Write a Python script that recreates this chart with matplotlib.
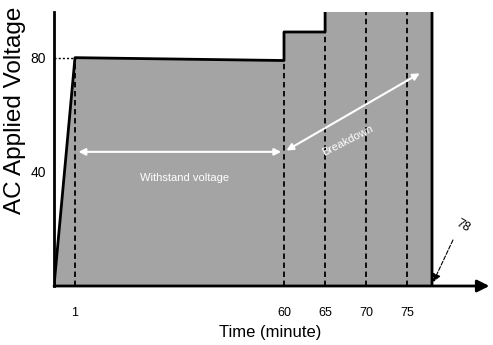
import matplotlib.pyplot as plt
import numpy as np

plt.rcParams['font.family'] = ['Liberation Sans', 'DejaVu Sans']

# voltage profile (time in minutes, volts)
t_prof = [0, 1, 60, 60, 65, 65, 78, 78]
v_prof = [0, 80, 79, 89, 89, 100, 100, 0]

step_times = [1, 60, 65, 70, 75]
step_tops = [80, 89, 100, 100, 100]
xtick_vals = [1, 60, 65, 70, 75]
ytick_vals = [40, 80]

# broken time axis: fast start, compressed middle, wider steps
t_knots = [0, 1, 60, 78, 300]
p_knots = [0, 21, 230, 378, 378 + 222 * 8.2]

def fwd(t):
    return np.interp(t, t_knots, p_knots)

def inv(p):
    return np.interp(p, p_knots, t_knots)

xmax = 85
fig = plt.figure(figsize=(4.93, 3.45), dpi=100)
ax = fig.add_axes([54 / 493, (345 - 286) / 345, fwd(xmax) / 493, (286 - 12) / 345])
ax.set_xscale('function', functions=(fwd, inv))
ax.set_xlim(0, xmax)
ax.set_ylim(0, 96)

ax.fill(t_prof, v_prof, facecolor='#a4a4a4', edgecolor='none', zorder=1)
ax.plot(t_prof, v_prof, color='black', lw=2, zorder=3)

for t, top in zip(step_times, step_tops):
    ax.plot([t, t], [0, top], color='black', lw=1.3, ls=(0, (3, 2)), zorder=2)
ax.plot([0, 1], [80, 80], color='black', lw=1, ls=(0, (1.5, 1.5)), clip_on=False)

# white arrows and labels
ax.annotate('', xy=(1.2, 47), xytext=(60, 47),
            arrowprops=dict(arrowstyle='<|-|>', color='white', lw=1.5, mutation_scale=10))
ax.annotate('', xy=(60, 47), xytext=(76.8, 75),
            arrowprops=dict(arrowstyle='<|-|>', color='white', lw=1.5, mutation_scale=10))
ax.text(32, 38, 'Withstand voltage', color='white', fontsize=8, ha='center', va='center')
ax.text(67.8, 51, 'Breakdown', color='white', fontsize=8, ha='center', va='center', rotation=27)

# 78 callout
ax.annotate('', xy=(78, 0.5), xytext=(80.7, 17),
            arrowprops=dict(arrowstyle='-|>', color='black', lw=0.8, ls='--', mutation_scale=12))
ax.text(81.8, 21, '78', fontsize=9, rotation=-30, ha='center', va='center')

# axes
for s in ['top', 'right', 'bottom']:
    ax.spines[s].set_visible(False)
ax.spines['left'].set_linewidth(2)
ax.annotate('', xy=(xmax, 0), xytext=(0, 0), annotation_clip=False,
            arrowprops=dict(arrowstyle='-|>', color='black', lw=2, mutation_scale=18,
                            shrinkA=0, shrinkB=0))

ax.set_xticks(xtick_vals)
ax.set_xticklabels([str(v) for v in xtick_vals], fontsize=9)
ax.set_yticks(ytick_vals)
ax.set_yticklabels([str(v) for v in ytick_vals], fontsize=10)
ax.tick_params(length=0, pad=6)
ax.tick_params(axis='x', pad=15)

fig.text(270 / 493, (345 - 333) / 345, 'Time (minute)', fontsize=12, ha='center', va='center')
fig.text(15 / 493, (345 - 214) / 345, 'AC Applied Voltage', fontsize=17.5, rotation=90,
         ha='center', va='bottom')

plt.savefig('out.png', dpi=100)
